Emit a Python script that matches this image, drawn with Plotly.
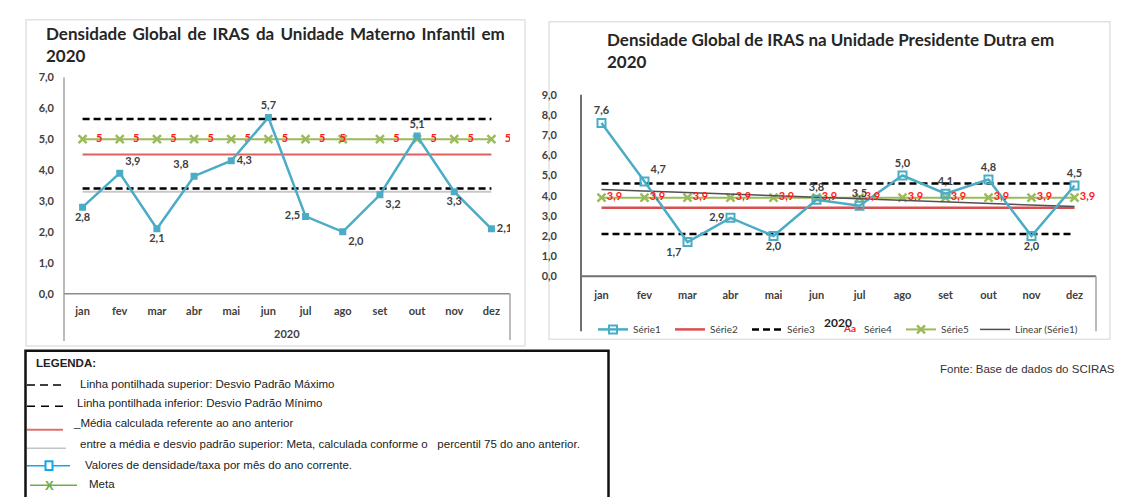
import numpy as np
import plotly.graph_objects as go

W, H = 1130, 497
OFF = 8  # margem padrao do <body> na pagina gerada
FW, FH = W - OFF, H - OFF

meses = ['jan', 'fev', 'mar', 'abr', 'mai', 'jun', 'jul', 'ago', 'set', 'out', 'nov', 'dez']

# Unidade Materno Infantil
mi_valores = [2.8, 3.9, 2.1, 3.8, 4.3, 5.7, 2.5, 2.0, 3.2, 5.1, 3.3, 2.1]
mi_dp_max = 5.65
mi_dp_min = 3.4
mi_media = 4.5
mi_meta = 5.0
mi_p75 = 3.3

# Unidade Presidente Dutra
pd_valores = [7.6, 4.7, 1.7, 2.9, 2.0, 3.8, 3.5, 5.0, 4.1, 4.8, 2.0, 4.5]
pd_dp_max = 4.6
pd_dp_min = 2.1
pd_media = 3.4
pd_meta = 3.9

BLUE = '#4bacc6'
RED = '#e06060'
GREEN = '#9bbb59'
CHART_FONT = 'Lato'
LEG_FONT = 'Liberation Sans'


def fx(x):
    return (x - OFF) / FW


def fy(y):
    return 1 - (y - OFF) / FH


def br(v, fmt='.1f'):
    return format(v, fmt).replace('.', ',')


def const(v):
    return [v] * len(meses)


mi_pos = ['bottom center', 'top right', 'bottom center', 'top left', 'middle right', 'top center',
          'middle left', 'bottom right', 'bottom right', 'top center', 'bottom center', 'middle right']
pd_pos = ['top center', 'top right', 'bottom left', 'middle left', 'bottom center', 'top center',
          'top center', 'top center', 'top center', 'top center', 'bottom center', 'top center']

lbl_font = dict(family=CHART_FONT, size=11, color='#404040', weight='bold')
red_font = dict(family=CHART_FONT, size=11, color='#ff1a1a', weight='bold')
dash = '7px,4px'
NB = '\u00a0'

fig = go.Figure()

# ---- grafico 1
fig.add_trace(go.Scatter(x=meses, y=const(mi_p75), mode='lines', line=dict(color='#c8c8c8', width=2),
                         showlegend=False, xaxis='x', yaxis='y'))
for v in (mi_dp_max, mi_dp_min):
    fig.add_trace(go.Scatter(x=meses, y=const(v), mode='lines', line=dict(color='black', width=2.5, dash=dash),
                             showlegend=False, xaxis='x', yaxis='y'))
fig.add_trace(go.Scatter(x=meses, y=const(mi_media), mode='lines', line=dict(color=RED, width=2),
                         showlegend=False, xaxis='x', yaxis='y'))
fig.add_trace(go.Scatter(x=meses, y=const(mi_meta), mode='lines+markers',
                         line=dict(color=GREEN, width=2),
                         marker=dict(symbol='x-thin', size=8, line=dict(color=GREEN, width=2.5)),
                         showlegend=False, xaxis='x', yaxis='y'))
mi_red_pos = ['middle right'] * 12
mi_red_pos[7] = 'middle center'
mi_red_txt = [NB * 5 + br(mi_meta, 'g')] * 12
mi_red_txt[7] = br(mi_meta, 'g')
fig.add_trace(go.Scatter(x=meses, y=const(mi_meta), mode='text', text=mi_red_txt,
                         textposition=mi_red_pos, textfont=red_font,
                         showlegend=False, xaxis='x', yaxis='y'))
fig.add_trace(go.Scatter(x=meses, y=mi_valores, mode='lines+markers+text',
                         line=dict(color=BLUE, width=2.5),
                         marker=dict(symbol='square', size=7, color=BLUE),
                         text=[br(v) for v in mi_valores], textposition=mi_pos, textfont=lbl_font,
                         showlegend=False, xaxis='x', yaxis='y'))

# ---- grafico 2
idx = np.arange(len(pd_valores))
coef = np.polyfit(idx, pd_valores, 1)
pd_trend = np.polyval(coef, idx)

fig.add_trace(go.Scatter(x=meses, y=const(pd_dp_max), mode='lines', name='Série3',
                         line=dict(color='black', width=2.5, dash=dash), legendrank=3,
                         xaxis='x2', yaxis='y2'))
fig.add_trace(go.Scatter(x=meses, y=const(pd_dp_min), mode='lines', showlegend=False,
                         line=dict(color='black', width=2.5, dash=dash), xaxis='x2', yaxis='y2'))
fig.add_trace(go.Scatter(x=meses, y=const(pd_media), mode='lines', name='Série2',
                         line=dict(color='#d94f4f', width=2.5), legendrank=2,
                         xaxis='x2', yaxis='y2'))
fig.add_trace(go.Scatter(x=meses, y=const(pd_meta), mode='lines+markers', name='Série5',
                         line=dict(color=GREEN, width=2),
                         marker=dict(symbol='x-thin', size=8, line=dict(color=GREEN, width=2.5)),
                         legendrank=5, xaxis='x2', yaxis='y2'))
fig.add_trace(go.Scatter(x=meses, y=pd_trend, mode='lines', name='Linear (Série1)',
                         line=dict(color='#505050', width=1.5), legend='legend2',
                         xaxis='x2', yaxis='y2'))
fig.add_trace(go.Scatter(x=meses, y=pd_valores, mode='lines+markers+text', name='Série1',
                         line=dict(color=BLUE, width=2.5),
                         marker=dict(symbol='square-open', size=8, color=BLUE, line=dict(width=2)),
                         text=[br(v) for v in pd_valores], textposition=pd_pos, textfont=lbl_font,
                         legendrank=1, xaxis='x2', yaxis='y2'))
fig.add_trace(go.Scatter(x=meses, y=const(pd_meta), mode='text', name='Série4',
                         text=[NB * 2 + br(pd_meta)] * 12, textposition='middle right',
                         textfont=red_font, legendrank=4, xaxis='x2', yaxis='y2'))

axis_common = dict(showgrid=False, zeroline=False, showline=False, ticks='', fixedrange=True)
tickf = dict(family=CHART_FONT, size=11, color='#404040', weight='bold')
leg_common = dict(orientation='h', yanchor='middle', xanchor='left', bgcolor='rgba(0,0,0,0)',
                  font=dict(family=CHART_FONT, size=10, color='#404040'))

fig.update_layout(
    width=FW, height=FH, autosize=False,
    margin=dict(l=0, r=0, t=0, b=0),
    paper_bgcolor='white', plot_bgcolor='rgba(0,0,0,0)',
    separators=',.',
    xaxis=dict(domain=[fx(64), fx(510)], range=[-0.5, 11.5], tickfont=tickf,
               ticklabelstandoff=9, anchor='y', **axis_common),
    yaxis=dict(domain=[fy(294.3), fy(72)], range=[0, 7], dtick=1, tickformat='.1f', tickfont=tickf,
               ticklabelstandoff=9, anchor='x', **axis_common),
    xaxis2=dict(domain=[fx(580), fx(1096)], range=[-0.5, 11.5], tickfont=tickf,
                ticklabelstandoff=11, anchor='y2', **axis_common),
    yaxis2=dict(domain=[fy(276.5), fy(90)], range=[0, 9], dtick=1, tickformat='.1f', tickfont=tickf,
                ticklabelstandoff=22, anchor='x2', **axis_common),
    legend=dict(x=fx(593), y=fy(331), traceorder='normal', entrywidth=32, entrywidthmode='pixels',
                **leg_common),
    legend2=dict(x=fx(975), y=fy(331), **leg_common),
)

shapes = []


def rect(x0, y0, x1, y1, **kw):
    shapes.append(dict(type='rect', xref='paper', yref='paper',
                       x0=fx(x0), x1=fx(x1), y0=fy(y0), y1=fy(y1), **kw))


def line(x0, y0, x1, y1, color, width, dash=None):
    shapes.append(dict(type='line', xref='paper', yref='paper', x0=fx(x0), x1=fx(x1),
                       y0=fy(y0), y1=fy(y1), line=dict(color=color, width=width, dash=dash)))


# paineis
rect(26, 13, 525, 348, fillcolor='white', line=dict(color='#e2e2e2', width=1.5), layer='below')
rect(549, 15, 1110, 341, fillcolor='white', line=dict(color='#e2e2e2', width=1.5), layer='below')

# eixos grafico 1
line(64, 72, 64, 343, '#a6a6a6', 1.5)
line(64, 294.3, 510, 294.3, '#8c8c8c', 1.5)
line(510, 294.3, 510, 342, '#a6a6a6', 1.5)
# eixos grafico 2
line(581, 90, 581, 333, '#707070', 2)
line(581, 276.5, 1096, 276.5, '#707070', 2)
line(1096, 276.5, 1096, 333, '#a6a6a6', 1.5)

# caixa de legenda
rect(25.5, 353, 608.5, 505, fillcolor='white', line=dict(color='#111111', width=2.5))
line(27, 388, 62, 388, 'black', 1.5, '8px,5px')
line(27, 410, 66, 410, 'black', 1.5, '8px,6px')
line(27, 434, 63, 434, '#e07070', 2)
line(27, 453, 66, 453, '#c4c4c4', 1.5)
line(27, 471, 70, 471, '#13a6ec', 1.5)
rect(45.5, 466.5, 52.5, 475.5, fillcolor='white', line=dict(color='#13a6ec', width=2))
line(30, 491, 77, 491, '#70ad47', 1.5)

fig.update_layout(shapes=shapes)

annotations = []


def note(text, x, y, size, font=LEG_FONT, color='#222222', xanchor='left', yanchor='middle',
         weight='normal', align='left'):
    annotations.append(dict(text=text, x=fx(x), y=fy(y), xref='paper', yref='paper',
                            xanchor=xanchor, yanchor=yanchor, showarrow=False, align=align,
                            font=dict(family=font, size=size, color=color, weight=weight)))


# titulo 1 levemente justificado (espaco fino entre as palavras)
titulo1 = ' \u2009'.join('Densidade Global de IRAS da Unidade Materno Infantil em'.split(' '))
note(titulo1 + '<br>2020', 44, 14, 17, font=CHART_FONT, color='#262626', yanchor='top', weight='bold')
note('Densidade Global de IRAS na Unidade Presidente Dutra em<br>2020', 605, 20, 17,
     font=CHART_FONT, color='#262626', yanchor='top', weight='bold')
note('2020', 287, 335, 11, font=CHART_FONT, color='#404040', xanchor='center', weight='bold')
note('2020', 838, 324, 12, font=CHART_FONT, color='#262626', xanchor='center', weight='bold')

LS = 11.5
note('LEGENDA:', 34, 366, LS, weight='bold')
note('Linha pontilhada superior: Desvio Padrão Máximo', 78, 387, LS)
note('Linha pontilhada inferior: Desvio Padrão Mínimo', 75, 407, LS)
note('_Média calculada referente ao ano anterior', 71, 427, LS)
note('entre a média e desvio padrão superior: Meta, calculada conforme o\u00a0\u00a0\u00a0percentil 75 do ano anterior.',
     78, 449, LS)
note('Valores de densidade/taxa por mês do ano corrente.', 83, 470, LS)
note('X', 49, 491, 13, color='#70ad47', xanchor='center', weight='bold')
note('Meta', 87, 490, LS)
note('Fonte: Base de dados do SCIRAS', 1117, 372, 11.5, xanchor='right', color='#333333')

fig.update_layout(annotations=annotations)

fig.write_html('out.html')
